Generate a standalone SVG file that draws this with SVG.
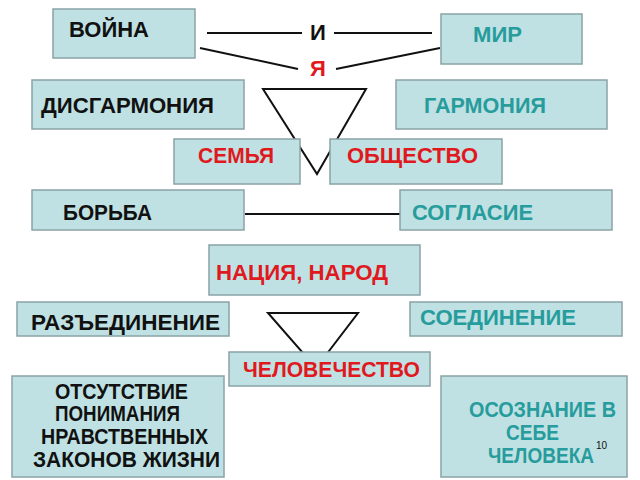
<svg xmlns="http://www.w3.org/2000/svg" width="640" height="480" viewBox="0 0 640 480">
<style>
rect{fill:#bfe1e3;stroke:#8aa3a6;stroke-width:1.5}
text{font-family:"Liberation Sans",Arial,sans-serif;font-weight:bold;font-size:21.5px}
.b{fill:#111}.t{fill:#279c9c}.r{fill:#e0191f}
.l{stroke:#111;stroke-width:2;fill:none}
</style>
<rect width="640" height="480" style="fill:#fff;stroke:none"/>
<g id="connectors">
<line class="l" x1="207" y1="33" x2="302" y2="33"/>
<line class="l" x1="334" y1="33" x2="432" y2="33"/>
<line class="l" x1="200" y1="48" x2="298" y2="69"/>
<line class="l" x1="336" y1="69" x2="440" y2="48"/>
<line class="l" x1="245" y1="214" x2="400" y2="214"/>
<polygon class="l" points="263,89 366,89 317,174"/>
<polygon class="l" points="268,313 358,313 316,368"/>
</g>
<g id="i"><text x="318" y="40" class="b" text-anchor="middle" style="font-size:22px">И</text></g>
<g id="ya"><text x="318" y="76" class="r" text-anchor="middle" style="font-size:22px">Я</text></g>
<g id="voyna"><rect x="53" y="9" width="142" height="49"/><text x="69" y="37" class="b" textLength="80" lengthAdjust="spacingAndGlyphs">ВОЙНА</text></g>
<g id="mir"><rect x="441" y="14" width="141" height="50"/><text x="473" y="42" class="t" textLength="49" lengthAdjust="spacingAndGlyphs">МИР</text></g>
<g id="disg"><rect x="32" y="80" width="212" height="49"/><text x="41" y="113" class="b" textLength="173" lengthAdjust="spacingAndGlyphs">ДИСГАРМОНИЯ</text></g>
<g id="garm"><rect x="396" y="80" width="211" height="49"/><text x="424" y="113" class="t" textLength="122" lengthAdjust="spacingAndGlyphs">ГАРМОНИЯ</text></g>
<g id="semya"><rect x="174" y="139" width="126" height="45"/><text x="198" y="163" class="r" textLength="76" lengthAdjust="spacingAndGlyphs">СЕМЬЯ</text></g>
<g id="obsch"><rect x="330" y="139" width="172" height="45"/><text x="347" y="163" class="r" textLength="131" lengthAdjust="spacingAndGlyphs">ОБЩЕСТВО</text></g>
<g id="borba"><rect x="32" y="190" width="212" height="40"/><text x="63" y="220" class="b" textLength="89" lengthAdjust="spacingAndGlyphs">БОРЬБА</text></g>
<g id="soglasie"><rect x="400" y="190" width="212" height="40"/><text x="412" y="220" class="t" textLength="121" lengthAdjust="spacingAndGlyphs">СОГЛАСИЕ</text></g>
<g id="naciya"><rect x="209" y="245" width="211" height="50"/><text x="216" y="280" class="r" textLength="172" lengthAdjust="spacingAndGlyphs">НАЦИЯ, НАРОД</text></g>
<g id="razed"><rect x="17" y="302" width="212" height="34"/><text x="31" y="330" class="b" textLength="189" lengthAdjust="spacingAndGlyphs">РАЗЪЕДИНЕНИЕ</text></g>
<g id="soed"><rect x="410" y="302" width="212" height="34"/><text x="420" y="325" class="t" textLength="156" lengthAdjust="spacingAndGlyphs">СОЕДИНЕНИЕ</text></g>
<g id="chel"><rect x="229" y="352" width="201" height="34"/><text x="243" y="377" class="r" textLength="177" lengthAdjust="spacingAndGlyphs">ЧЕЛОВЕЧЕСТВО</text></g>
<g id="otsut"><rect x="12" y="376" width="212" height="101"/>
<text x="55" y="399" class="b" textLength="133" lengthAdjust="spacingAndGlyphs">ОТСУТСТВИЕ</text>
<text x="55" y="421" class="b" textLength="125" lengthAdjust="spacingAndGlyphs">ПОНИМАНИЯ</text>
<text x="41" y="444" class="b" textLength="167" lengthAdjust="spacingAndGlyphs">НРАВСТВЕННЫХ</text>
<text x="33" y="467" class="b" textLength="187" lengthAdjust="spacingAndGlyphs">ЗАКОНОВ ЖИЗНИ</text></g>
<g id="osozn"><rect x="441" y="376" width="186" height="101"/>
<text x="469" y="417" class="t" textLength="147" lengthAdjust="spacingAndGlyphs">ОСОЗНАНИЕ В</text>
<text x="506" y="440" class="t" textLength="53" lengthAdjust="spacingAndGlyphs">СЕБЕ</text>
<text x="488" y="463" class="t" textLength="106" lengthAdjust="spacingAndGlyphs">ЧЕЛОВЕКА</text>
<text x="596" y="449" class="b" style="font-size:10px;font-weight:normal">10</text></g>
</svg>
